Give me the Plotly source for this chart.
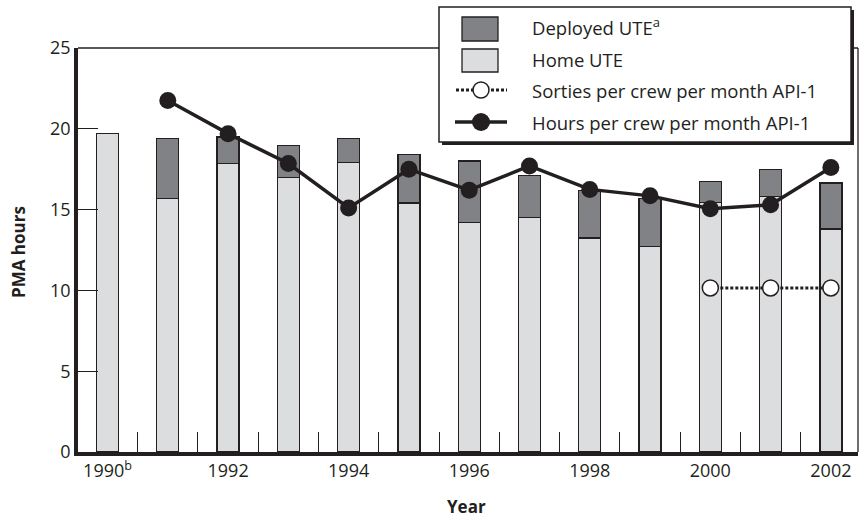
import plotly.graph_objects as go

# ---------------- data ----------------
years = [1990, 1991, 1992, 1993, 1994, 1995, 1996, 1997, 1998, 1999, 2000, 2001, 2002]
home_ute = [19.7, 15.7, 17.85, 17.0, 17.9, 15.4, 14.2, 14.5, 13.25, 12.7, 15.45, 15.8, 13.8]
deployed_ute = [None, 3.7, 1.65, 1.95, 1.5, 3.0, 3.8, 2.6, 2.95, 3.0, 1.3, 1.7, 2.85]
hours_years = [1991, 1992, 1993, 1994, 1995, 1996, 1997, 1998, 1999, 2000, 2001, 2002]
hours_per_crew = [21.75, 19.7, 17.85, 15.1, 17.5, 16.2, 17.7, 16.25, 15.85, 15.05, 15.3, 17.6]
sorties_years = [2000, 2001, 2002]
sorties_per_crew = [10.15, 10.15, 10.15]
tick_years = [1990, 1992, 1994, 1996, 1998, 2000, 2002]
tick_labels = ["1990<sup>b</sup>", "1992", "1994", "1996", "1998", "2000", "2002"]
legend_labels = ["Deployed UTE<sup>a</sup>", "Home UTE",
                 "Sorties per crew per month API-1", "Hours per crew per month API-1"]

# ---------------- style ----------------
W, H = 859, 525
ML, MR, MT, MB = 78, 1, 48, 73
PW, PH = W - ML - MR, H - MT - MB
DARK = "#231f20"
LIGHT = "#dcdddf"
MID = "#808285"
FONT = "Open Sans"


def px(x):
    return (x - ML) / PW


def py(y):
    return (H - MB - y) / PH


fig = go.Figure()
fig.add_trace(go.Bar(x=years, y=home_ute, width=0.365, name="Home UTE",
                     marker=dict(color=LIGHT, line=dict(color=DARK, width=1.3))))
fig.add_trace(go.Bar(x=years, y=deployed_ute, width=0.365, name="Deployed UTE",
                     marker=dict(color=MID, line=dict(color=DARK, width=1.3))))
fig.add_trace(go.Scatter(x=hours_years, y=hours_per_crew, mode="lines+markers",
                         name="Hours per crew per month API-1",
                         line=dict(color=DARK, width=3.5),
                         marker=dict(color=DARK, size=17)))
fig.add_trace(go.Scatter(x=sorties_years, y=sorties_per_crew, mode="lines+markers",
                         name="Sorties per crew per month API-1",
                         line=dict(color=DARK, width=3, dash="3px,2px"),
                         marker=dict(color="white", size=16, line=dict(color=DARK, width=1.5))))

shapes = [
    # thin top and right frame
    dict(type="line", xref="paper", yref="paper", x0=0, x1=1, y0=1, y1=1,
         line=dict(color=DARK, width=1.3)),
    dict(type="line", xref="paper", yref="paper", x0=1, x1=1, y0=0, y1=1,
         line=dict(color=DARK, width=1.3)),
    # legend shadow and box
    dict(type="rect", xref="paper", yref="paper", x0=px(442), x1=px(854), y0=py(10), y1=py(145),
         fillcolor=DARK, line=dict(width=0)),
    dict(type="rect", xref="paper", yref="paper", x0=px(439), x1=px(851), y0=py(7), y1=py(142),
         fillcolor="white", line=dict(color=DARK, width=1.5)),
    # legend swatches
    dict(type="rect", xref="paper", yref="paper", x0=px(462), x1=px(498), y0=py(17), y1=py(41),
         fillcolor=MID, line=dict(color=DARK, width=1.3)),
    dict(type="rect", xref="paper", yref="paper", x0=px(462), x1=px(498), y0=py(49), y1=py(72),
         fillcolor=LIGHT, line=dict(color=DARK, width=1.3)),
    dict(type="line", xref="paper", yref="paper", x0=px(456), x1=px(507), y0=py(90), y1=py(90),
         line=dict(color=DARK, width=3, dash="3px,2px")),
    dict(type="circle", xref="paper", yref="paper", x0=px(473), x1=px(489), y0=py(82), y1=py(98),
         fillcolor="white", line=dict(color=DARK, width=1.5)),
    dict(type="line", xref="paper", yref="paper", x0=px(455), x1=px(507), y0=py(122), y1=py(122),
         line=dict(color=DARK, width=3.5)),
    dict(type="circle", xref="paper", yref="paper", x0=px(472), x1=px(490), y0=py(113), y1=py(131),
         fillcolor=DARK, line=dict(color=DARK, width=0)),
]

annotations = []
for lab, yy in zip(legend_labels, [27, 59, 90, 122]):
    annotations.append(dict(text=lab, xref="paper", yref="paper", x=px(530), y=py(yy),
                            xanchor="left", yanchor="middle", showarrow=False,
                            font=dict(family=FONT, size=18.5, color=DARK)))
annotations.append(dict(text="<b>PMA hours</b>", xref="paper", yref="paper", x=px(18), y=py(252),
                        xanchor="center", yanchor="middle", textangle=-90, showarrow=False,
                        font=dict(family=FONT, size=17, color=DARK)))
annotations.append(dict(text="<b>Year</b>", xref="paper", yref="paper", x=px(466), y=py(506),
                        xanchor="center", yanchor="middle", showarrow=False,
                        font=dict(family=FONT, size=17, color=DARK)))

fig.update_layout(
    width=W, height=H, barmode="stack", showlegend=False,
    margin=dict(l=ML, r=MR, t=MT, b=MB, pad=0),
    paper_bgcolor="white", plot_bgcolor="white",
    font=dict(family=FONT, size=18, color=DARK),
    shapes=shapes, annotations=annotations,
    xaxis=dict(range=[1989.51, 2002.45], tickmode="array", tickvals=tick_years, ticktext=tick_labels,
               ticks="", showgrid=False, zeroline=False,
               showline=True, linecolor=DARK, linewidth=3.5,
               minor=dict(ticks="inside", ticklen=20, tickwidth=1.3, tickcolor=DARK,
                          tick0=1990.5, dtick=1, showgrid=False),
               tickfont=dict(family=FONT, size=18, color=DARK)),
    yaxis=dict(range=[0, 25], tickmode="array", tickvals=[0, 5, 10, 15, 20, 25],
               ticks="inside", ticklen=20, tickwidth=1.3, tickcolor=DARK,
               showgrid=False, zeroline=False,
               showline=True, linecolor=DARK, linewidth=3.5,
               tickfont=dict(family=FONT, size=18, color=DARK)),
)

fig.write_html("out.html", config={"displayModeBar": False},
               post_script="document.body.style.margin='0';document.body.style.padding='0';")
